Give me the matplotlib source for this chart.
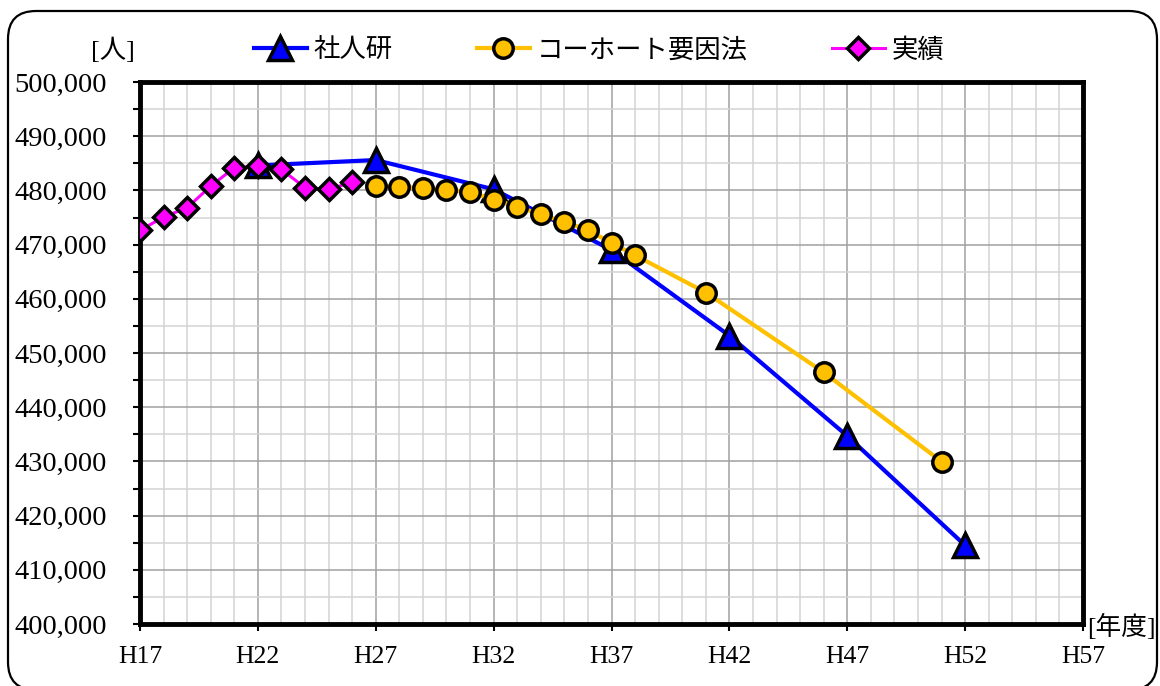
import matplotlib
matplotlib.use("Agg")  # no display

import matplotlib.pyplot as plt
from matplotlib.patches import FancyBboxPatch
from matplotlib.ticker import MultipleLocator, FuncFormatter

plt.rcParams['font.family'] = ['Liberation Serif', 'Noto Sans CJK JP', 'DejaVu Sans']

# Data
jisseki_years = [17, 18, 19, 20, 21, 22, 23, 24, 25, 26]
jisseki_values = [472630, 475080, 476810, 480790, 484180, 484480, 483870, 480500, 480180, 481530]

shajinken_years = [22, 27, 32, 37, 42, 47, 52]
shajinken_values = [484600, 485600, 480200, 469000, 453200, 434700, 414500]

cohort_years = [27, 28, 29, 30, 31, 32, 33, 34, 35, 36, 37, 38, 41, 46, 51]
cohort_values = [480790, 480680, 480370, 480130, 479690, 478300, 477000, 475580,
                 474160, 472690, 470300, 468030, 461160, 446430, 429960]

x_ticks = [17, 22, 27, 32, 37, 42, 47, 52, 57]
x_labels = ["H%d" % t for t in x_ticks]

label_shajinken = "社人研"
label_cohort = "コーホート要因法"
label_jisseki = "実績"

JP_FONT = ['Noto Sans CJK JP', 'DejaVu Sans']
JP_MIX = ['Liberation Serif', 'Noto Sans CJK JP', 'DejaVu Sans']


def main():
    fig = plt.figure(figsize=(11.6, 6.86), dpi=100)
    ax = fig.add_axes([140 / 1160, 62 / 686, 943 / 1160, 542 / 686])

    # outer rounded frame (in inches)
    frame = FancyBboxPatch((0.08 + 0.28, -0.04 + 0.28), 11.49 - 0.56, 6.79 - 0.56,
                           boxstyle="round,pad=0.28", transform=fig.dpi_scale_trans,
                           facecolor="none", edgecolor="black", linewidth=1.6,
                           clip_on=False, zorder=0)
    fig.patches.append(frame)

    ax.plot(shajinken_years, shajinken_values, color="#0000FF", linewidth=3,
            marker="^", markersize=17, markerfacecolor="#0000FF",
            markeredgecolor="black", markeredgewidth=2.5, label=label_shajinken, zorder=3)
    ax.plot(cohort_years, cohort_values, color="#FFC000", linewidth=3,
            marker="o", markersize=14, markerfacecolor="#FFC000",
            markeredgecolor="black", markeredgewidth=2.5, label=label_cohort, zorder=4)
    ax.plot(jisseki_years, jisseki_values, color="#FF00FF", linewidth=2.2,
            marker="D", markersize=11, markerfacecolor="#FF00FF",
            markeredgecolor="black", markeredgewidth=2.5, label=label_jisseki, zorder=5)

    ax.set_xlim(17, 57)
    ax.set_ylim(400000, 500000)

    ax.xaxis.set_major_locator(MultipleLocator(5))
    ax.xaxis.set_minor_locator(MultipleLocator(1))
    ax.yaxis.set_major_locator(MultipleLocator(10000))
    ax.yaxis.set_minor_locator(MultipleLocator(5000))
    ax.set_xticks(x_ticks)
    ax.set_xticklabels(x_labels)
    ax.yaxis.set_major_formatter(FuncFormatter(lambda v, p: "{:,}".format(int(v))))

    ax.grid(which="major", color="#a0a0a0", linewidth=1.1, zorder=0)
    ax.grid(which="minor", color="#d3d3d3", linewidth=1.1, zorder=0)
    ax.set_axisbelow(True)

    for s in ax.spines.values():
        s.set_linewidth(3.5)
        s.set_color("black")

    ax.tick_params(axis="y", which="major", length=5, width=1.5, pad=19,
                   labelsize=20.5, direction="out")
    ax.tick_params(axis="y", which="minor", length=5, width=1.5, direction="out")
    ax.tick_params(axis="x", which="major", length=5, width=1.5, pad=11,
                   labelsize=18.5, direction="out")
    ax.tick_params(axis="x", which="minor", length=0)

    # unit labels
    fig.text(113 / 1160, 1 - 50 / 686, "[人]", family=JP_MIX, fontsize=19,
             ha="center", va="center")
    fig.text(1121 / 1160, 1 - 627 / 686, "[年度]", family=JP_MIX, fontsize=18.5,
             ha="center", va="center")

    fig.legend(loc="center", bbox_to_anchor=(599 / 1160, 1 - 50 / 686),
               ncol=3, frameon=False, handlelength=2.0, handletextpad=0.25,
               columnspacing=3.2, prop={"family": JP_FONT, "size": 19})

    fig.savefig("out.png", dpi=100)
    plt.close(fig)


if __name__ == "__main__":
    main()
